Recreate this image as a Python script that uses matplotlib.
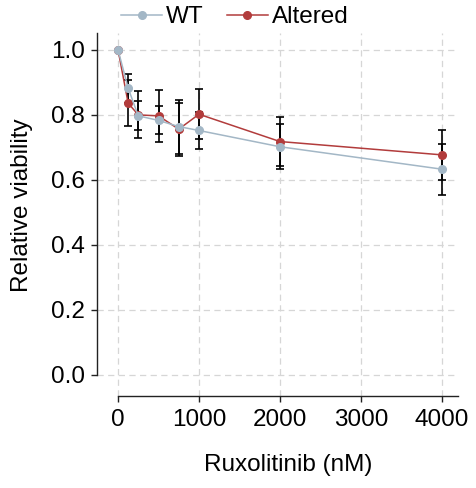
import numpy as np
import matplotlib
matplotlib.use("Agg")
import matplotlib.pyplot as plt

plt.rcParams['font.family'] = ['Liberation Sans', 'DejaVu Sans']

# Ruxolitinib dose (nM)
doses = [0, 125, 250, 500, 750, 1000, 2000, 4000]

wt_mean = [1.0, 0.882, 0.797, 0.783, 0.764, 0.752, 0.702, 0.633]
wt_err = [0.0, 0.044, 0.045, 0.043, 0.083, 0.057, 0.070, 0.078]

alt_mean = [1.0, 0.836, 0.800, 0.797, 0.756, 0.802, 0.718, 0.677]
alt_err = [0.0, 0.071, 0.072, 0.080, 0.082, 0.077, 0.075, 0.077]

wt_color = '#a3b7c6'
alt_color = '#b23c3c'

fig = plt.figure(figsize=(4.76, 4.88), dpi=100)
ax = fig.add_axes([0.2038, 0.1885, 0.9622 - 0.2038, 0.9324 - 0.1885])

# error bars first so the markers sit on top
for means, errs in [(alt_mean, alt_err), (wt_mean, wt_err)]:
    x = [d for d, e in zip(doses, errs) if e > 0]
    y = [m for m, e in zip(means, errs) if e > 0]
    e = [e for e in errs if e > 0]
    ax.errorbar(x, y, yerr=e, fmt='none', ecolor='black', elinewidth=1.2,
                capsize=3, capthick=1.2, zorder=3)

ax.plot(doses, alt_mean, color=alt_color, marker='o', markersize=5.5,
        linewidth=1.1, label='Altered', zorder=4)
ax.plot(doses, wt_mean, color=wt_color, marker='o', markersize=5.5,
        linewidth=1.1, label='WT', zorder=5)

ax.set_xlim(-260, 4200)
ax.set_ylim(-0.065, 1.052)
ax.set_xticks([0, 1000, 2000, 3000, 4000])
ax.set_yticks([0.0, 0.2, 0.4, 0.6, 0.8, 1.0])
ax.set_yticklabels(['0.0', '0.2', '0.4', '0.6', '0.8', '1.0'])

ax.grid(True, color='#d6d6d6', linestyle=(0, (5, 3.5)), linewidth=0.9)
ax.set_axisbelow(True)

for s in ['top', 'right']:
    ax.spines[s].set_visible(False)
ax.spines['left'].set_bounds(0, 1.052)
ax.spines['bottom'].set_bounds(0, 4200)
for s in ['left', 'bottom']:
    ax.spines[s].set_linewidth(1.0)
    ax.spines[s].set_color('#222222')

ax.tick_params(labelsize=17.5, length=4, width=1.0, pad=5, color='#222222')

ax.set_xlabel('Ruxolitinib (nM)', fontsize=17.5)
ax.set_ylabel('Relative viability', fontsize=17.5)
ax.xaxis.set_label_coords((288 - 97) / (458 - 97), -(465 - 396) / (396 - 33))
ax.yaxis.set_label_coords(-(97 - 22) / (458 - 97), (396 - 205) / (396 - 33))
ax.xaxis.label.set_va('center')
ax.yaxis.label.set_va('center')

handles, labels = ax.get_legend_handles_labels()
fig.legend(handles[::-1], labels[::-1], loc='center', bbox_to_anchor=(0.493, 1 - 17 / 488),
           ncol=2, frameon=False, fontsize=17.5, handlelength=1.7,
           handletextpad=0.15, columnspacing=0.95, borderpad=0, borderaxespad=0)

fig.savefig('out.png', dpi=100)
